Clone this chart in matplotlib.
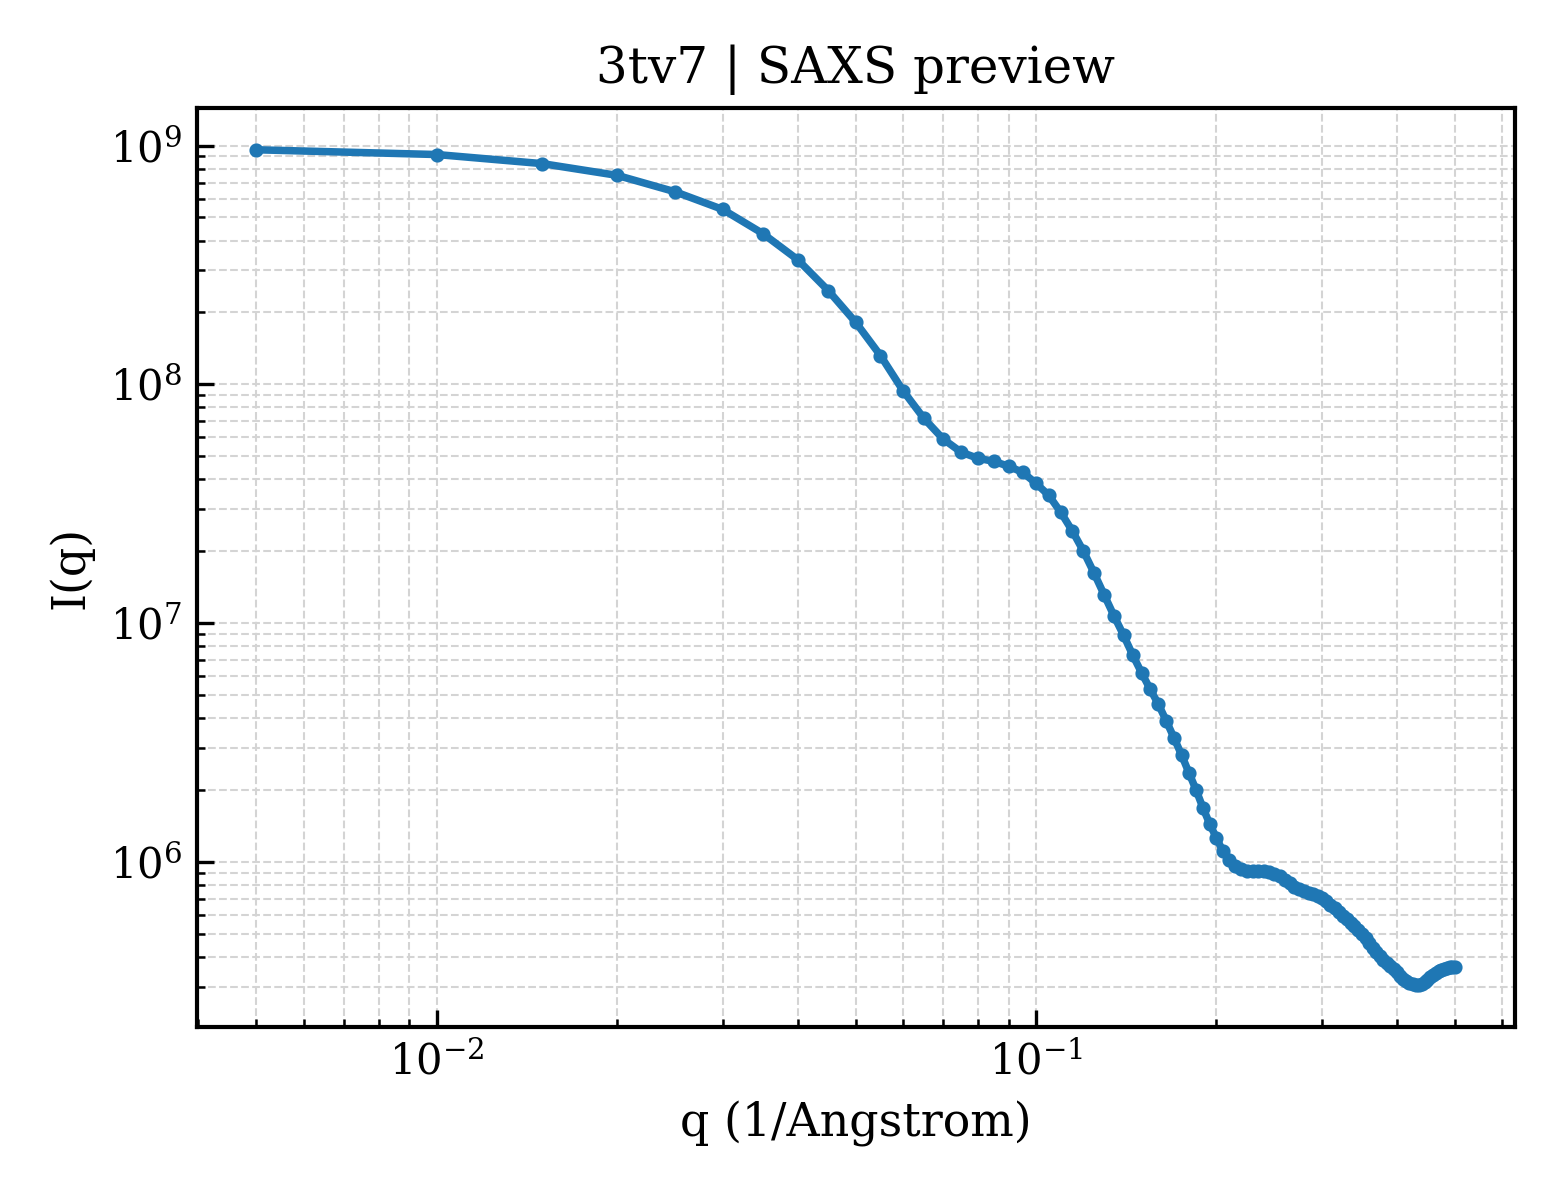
import numpy as np
import matplotlib
matplotlib.use("Agg")
import matplotlib.pyplot as plt

plt.rcParams['font.family'] = ['DejaVu Serif']

# scattering vector (1/Angstrom), every 0.005 from 0.005 to 0.5
q = np.round(np.arange(1, 101) * 0.005, 3)

# intensities
intensity = [
    9.6e8, 9.17e8, 8.4e8, 7.5e8, 6.4e8, 5.4e8, 4.28e8, 3.33e8, 2.47e8, 1.82e8,
    1.32e8, 9.4e7, 7.2e7, 5.9e7, 5.2e7, 4.9e7, 4.76e7, 4.54e7, 4.28e7, 3.85e7,
    3.43e7, 2.91e7, 2.43e7, 2.0e7, 1.62e7, 1.31e7, 1.07e7, 8.9e6, 7.35e6, 6.2e6,
    5.3e6, 4.58e6, 3.89e6, 3.3e6, 2.8e6, 2.36e6, 2.0e6, 1.68e6, 1.44e6, 1.26e6,
    1.11e6, 1.02e6, 9.62e5, 9.35e5, 9.17e5, 9.17e5, 9.2e5, 9.17e5, 9.08e5, 8.91e5,
    8.69e5, 8.41e5, 8.17e5, 7.89e5, 7.67e5, 7.53e5, 7.42e5, 7.31e5, 7.21e5, 7.07e5,
    6.87e5, 6.61e5, 6.39e5, 6.15e5, 5.94e5, 5.75e5, 5.56e5, 5.37e5, 5.19e5, 5.0e5,
    4.79e5, 4.56e5, 4.37e5, 4.18e5, 4.02e5, 3.89e5, 3.78e5, 3.67e5, 3.57e5, 3.45e5,
    3.32e5, 3.24e5, 3.16e5, 3.10e5, 3.07e5, 3.04e5, 3.04e5, 3.08e5, 3.15e5, 3.21e5,
    3.29e5, 3.37e5, 3.43e5, 3.48e5, 3.53e5, 3.57e5, 3.58e5, 3.62e5, 3.64e5, 3.64e5,
]

fig, ax = plt.subplots(figsize=(5.2, 4.0), dpi=300)
fig.subplots_adjust(left=0.126, right=0.971, top=0.91, bottom=0.144)

ax.loglog(q, intensity, marker='o', markersize=2.4, linewidth=1.8, color='#1f77b4')

ax.set_xlabel('q (1/Angstrom)', fontsize=11)
ax.set_ylabel('I(q)', fontsize=11)
ax.set_title('3tv7 | SAXS preview', fontsize=12)

ax.grid(True, which='both', linestyle='--', linewidth=0.5, color='#d4d4d4')
ax.tick_params(which='both', direction='in', labelsize=10)
ax.tick_params(which='major', length=4, width=0.8)
ax.tick_params(which='minor', length=2, width=0.6)
for s in ax.spines.values():
    s.set_linewidth(1.0)

fig.savefig('out.png', dpi=300)
